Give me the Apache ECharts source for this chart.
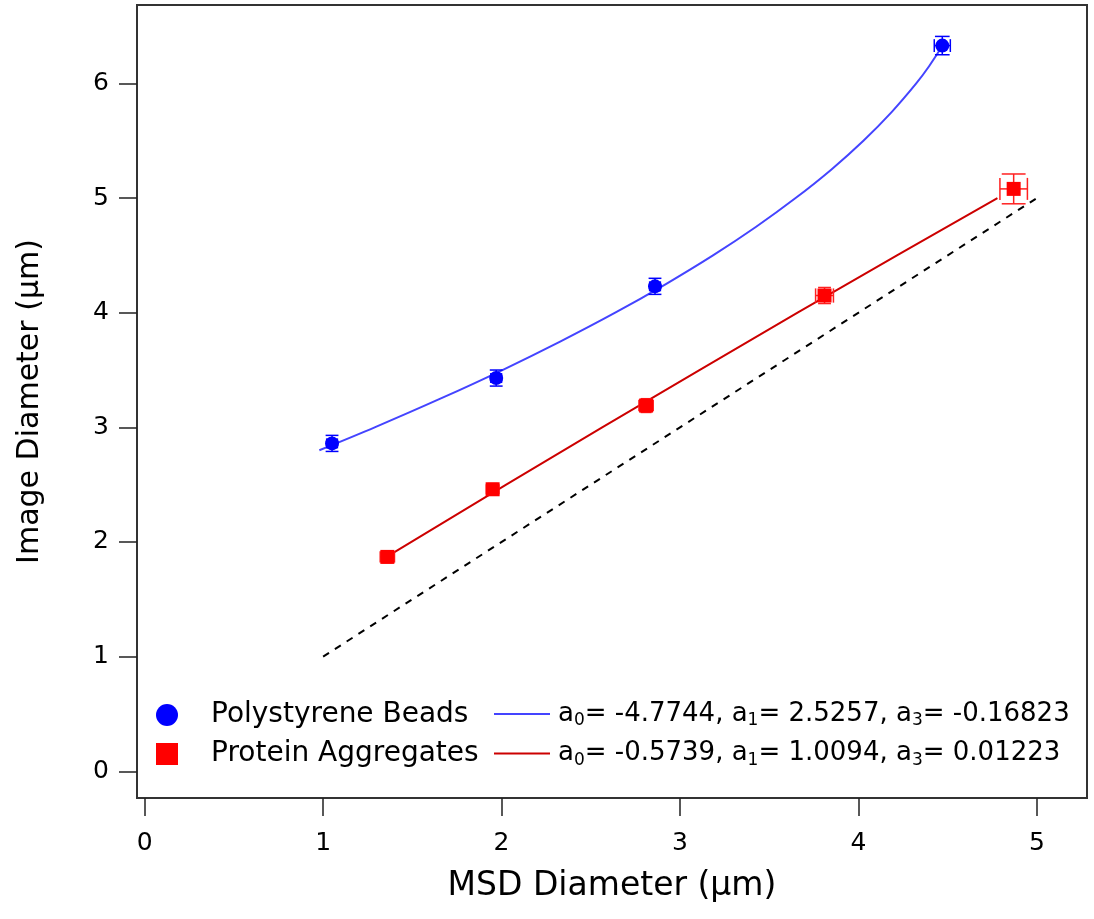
<!DOCTYPE html>
<html>
<head>
<meta charset="utf-8">
<script src="https://cdn.jsdelivr.net/npm/echarts@6/dist/echarts.min.js"></script>
<style>
  html, body { margin: 0; padding: 0; background: #fff; }
  #chart { width: 1094px; height: 919px; }
</style>
</head>
<body>
<div id="chart"></div>
<script>
// 刻度
const xTicks = [0, 1, 2, 3, 4, 5]
const yTicks = [0, 1, 2, 3, 4, 5, 6]

// Polystyrene Beads 测量点
const beadsX = [1.05, 1.97, 2.86, 4.47]
const beadsY = [2.86, 3.43, 4.23, 6.33]
const beadsXErr = [0.03, 0.03, 0.03, 0.045]
const beadsYErr = [0.07, 0.07, 0.07, 0.08]

// Protein Aggregates 测量点
const protX = [1.36, 1.95, 2.81, 3.81, 4.87]
const protY = [1.87, 2.46, 3.19, 4.15, 5.08]
const protXErr = [0.04, 0.035, 0.04, 0.05, 0.077]
const protYErr = [0.05, 0.05, 0.06, 0.07, 0.13]

// 拟合曲线 (读自图中)
const beadsFitX = [0.979, 1.289, 1.657, 2.005, 2.331, 2.637, 2.921, 3.185, 3.427, 3.648, 3.849, 4.028, 4.186, 4.324, 4.396, 4.472]
const beadsFitY = [2.80, 3.00, 3.25, 3.50, 3.75, 4.00, 4.25, 4.50, 4.75, 5.00, 5.25, 5.50, 5.75, 6.00, 6.15, 6.33]
const protFitX = [1.335, 2.026, 2.564, 3.109, 3.659, 4.216, 4.779]
const protFitY = [1.85, 2.50, 3.00, 3.50, 4.00, 4.50, 5.00]

// y = x 参考线
const idX = [1, 5]
const idY = [1, 5]

const beadsFitName = 'a{s|0}= -4.7744, a{s|1}= 2.5257, a{s|3}= -0.16823'
const protFitName = 'a{s|0}= -0.5739, a{s|1}= 1.0094, a{s|3}= 0.01223'

const font = 'DejaVu Sans'

function zip(xs, ys) {
    return xs.map((x, i) => [x, ys[i]])
}
function zipErr(xs, ys, xe, ye) {
    return xs.map((x, i) => [x, ys[i], xe[i], ye[i]])
}

// 误差线
function errRender(color) {
    return function (params, api) {
        let x = api.value(0), y = api.value(1), ex = api.value(2), ey = api.value(3)
        let l = api.coord([x - ex, y]), r = api.coord([x + ex, y])
        let t = api.coord([x, y + ey]), b = api.coord([x, y - ey])
        let cy = Math.max(5, Math.min(12, (b[1] - t[1]) * 0.4))
        let cx = Math.max(5, Math.min(12, (r[0] - l[0]) * 0.4))
        let st = { stroke: color, lineWidth: 1.5 }
        let line = (x1, y1, x2, y2) => ({ type: 'line', shape: { x1, y1, x2, y2 }, style: st })
        return {
            type: 'group',
            children: [
                line(l[0], l[1], r[0], r[1]),
                line(t[0], t[1], b[0], b[1]),
                line(t[0] - cy, t[1], t[0] + cy, t[1]),
                line(b[0] - cy, b[1], b[0] + cy, b[1]),
                line(l[0], l[1] - cx, l[0], l[1] + cx),
                line(r[0], r[1] - cx, r[0], r[1] + cx)
            ]
        }
    }
}

let chart = echarts.init(document.getElementById('chart'))

let option = {
    animation: false,
    textStyle: { fontFamily: font },
    grid: {
        left: 137, right: 7, top: 5, bottom: 121,
        show: true, borderColor: '#333', borderWidth: 2,
        containLabel: false
    },
    legend: [
        {
            orient: 'vertical',
            left: 151, top: 696,
            itemWidth: 22, itemHeight: 22,
            itemGap: 11,
            selectedMode: false,
            data: ['Polystyrene Beads', 'Protein Aggregates'],
            textStyle: { fontSize: 28, color: '#000', fontFamily: font, padding: [0, 0, 0, 28] }
        },
        {
            orient: 'vertical',
            left: 489, top: 696,
            itemWidth: 56, itemHeight: 2,
            itemGap: 11,
            icon: 'rect',
            selectedMode: false,
            data: [beadsFitName, protFitName],
            textStyle: {
                fontSize: 26, color: '#000', fontFamily: font, padding: [0, 0, 0, 3],
                rich: {
                    s: { fontSize: 17, padding: [14, 0, 0, 0], fontFamily: font }
                }
            }
        }
    ],
    xAxis: {
        type: 'value',
        min: -0.043, max: 5.281,
        name: 'MSD Diameter (\u03bcm)',
        nameLocation: 'middle',
        nameGap: 72,
        nameTextStyle: { fontSize: 33, color: '#000', fontFamily: font },
        axisLine: { show: true, onZero: false, lineStyle: { color: '#333', width: 2 } },
        axisTick: { show: true, length: 18, customValues: xTicks, lineStyle: { color: '#222', width: 1.5 } },
        axisLabel: { customValues: xTicks, margin: 33, fontSize: 25, color: '#000', fontFamily: font },
        splitLine: { show: false }
    },
    yAxis: {
        type: 'value',
        min: -0.233, max: 6.684,
        name: 'Image Diameter (\u03bcm)',
        nameLocation: 'middle',
        nameGap: 92,
        nameTextStyle: { fontSize: 30, color: '#000', fontFamily: font },
        axisLine: { show: true, onZero: false, lineStyle: { color: '#333', width: 2 } },
        axisTick: { show: true, length: 18, customValues: yTicks, lineStyle: { color: '#222', width: 1.5 } },
        axisLabel: { customValues: yTicks, margin: 28, fontSize: 25, color: '#000', fontFamily: font },
        splitLine: { show: false }
    },
    series: [
        {
            name: 'identity',
            type: 'line',
            data: zip(idX, idY),
            showSymbol: false,
            lineStyle: { color: '#000', width: 2, type: [7, 7] },
            z: 1
        },
        {
            name: beadsFitName,
            type: 'line',
            data: zip(beadsFitX, beadsFitY),
            showSymbol: false,
            smooth: 0.3,
            color: '#4444FF',
            lineStyle: { color: '#4444FF', width: 2 },
            z: 2
        },
        {
            name: protFitName,
            type: 'line',
            data: zip(protFitX, protFitY),
            showSymbol: false,
            color: '#CC0000',
            lineStyle: { color: '#CC0000', width: 2 },
            z: 2
        },
        {
            name: 'beadsErr',
            type: 'custom',
            renderItem: errRender('#0000FF'),
            data: zipErr(beadsX, beadsY, beadsXErr, beadsYErr),
            z: 3
        },
        {
            name: 'protErr',
            type: 'custom',
            renderItem: errRender('#FF2020'),
            data: zipErr(protX, protY, protXErr, protYErr),
            z: 3
        },
        {
            name: 'Polystyrene Beads',
            type: 'scatter',
            symbol: 'circle',
            symbolSize: 14,
            color: '#0000FF',
            itemStyle: { opacity: 1 },
            data: zip(beadsX, beadsY),
            z: 4
        },
        {
            name: 'Protein Aggregates',
            type: 'scatter',
            symbol: 'rect',
            symbolSize: 14,
            color: '#FF0000',
            itemStyle: { opacity: 1 },
            data: zip(protX, protY),
            z: 4
        }
    ]
}

chart.setOption(option)
</script>
</body>
</html>
